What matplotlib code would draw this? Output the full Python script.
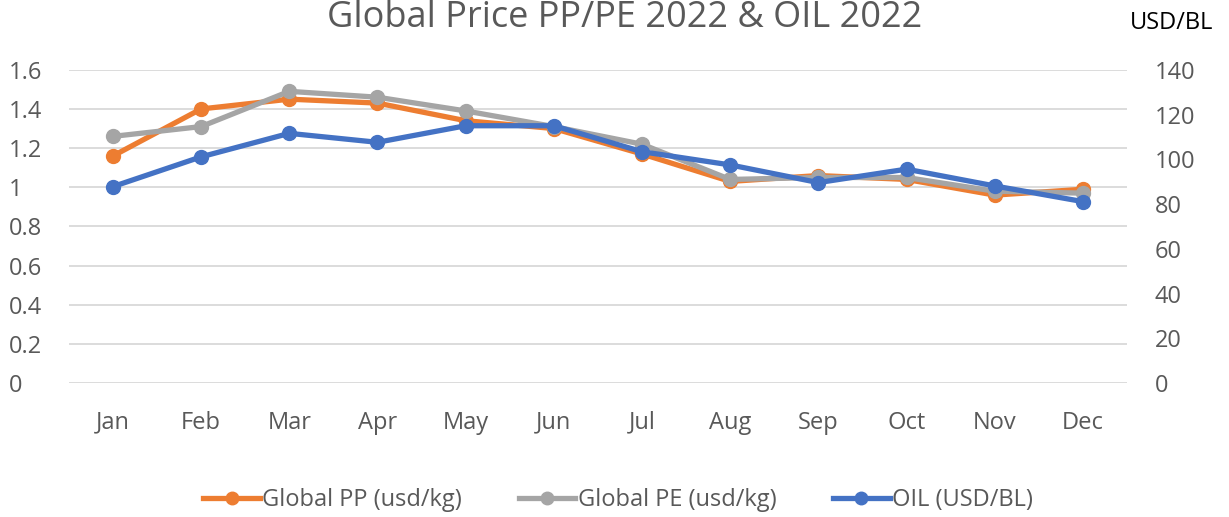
import numpy as np
import matplotlib.pyplot as plt

plt.rcParams['font.family'] = ['Open Sans', 'DejaVu Sans']

months = ["Jan", "Feb", "Mar", "Apr", "May", "Jun", "Jul", "Aug", "Sep", "Oct", "Nov", "Dec"]
pp = [1.16, 1.40, 1.45, 1.43, 1.34, 1.30, 1.17, 1.03, 1.06, 1.04, 0.96, 0.99]
pe = [1.26, 1.31, 1.49, 1.46, 1.39, 1.31, 1.22, 1.04, 1.05, 1.05, 0.98, 0.97]
oil = [87.8, 101.1, 111.6, 107.6, 115.0, 115.0, 103.4, 97.5, 89.6, 95.6, 88.1, 81.1]

left_ticks = [0, 0.2, 0.4, 0.6, 0.8, 1, 1.2, 1.4, 1.6]
left_labels = ["0", "0.2", "0.4", "0.6", "0.8", "1", "1.2", "1.4", "1.6"]
right_ticks = [0, 20, 40, 60, 80, 100, 120, 140]

txt = "#595959"
c_pp = "#ED7D31"
c_pe = "#A5A5A5"
c_oil = "#4472C4"
fs = 17

fig = plt.figure(figsize=(12.29, 5.17), dpi=100)
ax = fig.add_axes([0.056, 0.259, 0.861, 0.606])
ax2 = ax.twinx()

x = np.arange(len(months))
lw = 3.8
ms = 10
l1, = ax.plot(x, pp, color=c_pp, lw=lw, marker="o", ms=ms, label="Global PP (usd/kg)", zorder=3)
l2, = ax.plot(x, pe, color=c_pe, lw=lw, marker="o", ms=ms, label="Global PE (usd/kg)", zorder=4)
l3, = ax2.plot(x, oil, color=c_oil, lw=lw, marker="o", ms=ms, label="OIL (USD/BL)", zorder=5)

ax.set_xlim(-0.5, 11.5)
ax.set_ylim(0, 1.6)
ax2.set_ylim(0, 140)
ax.set_xticks(x)
ax.set_xticklabels(months)
ax.set_yticks(left_ticks)
ax.set_yticklabels(left_labels)
ax2.set_yticks(right_ticks)

ax.grid(axis="y", color="#D9D9D9", lw=1.3)
ax.set_axisbelow(True)
for a in (ax, ax2):
    for s in a.spines.values():
        s.set_visible(False)
    a.tick_params(length=0, colors=txt, labelsize=fs)
ax.tick_params(axis="x", pad=20)
ax.tick_params(axis="y", pad=43)
ax2.tick_params(axis="y", pad=20)
for lab in ax.get_yticklabels():
    lab.set_horizontalalignment("left")

fig.text(0.508, 1.0, "Global Price PP/PE 2022 & OIL 2022", ha="center", va="top",
         fontsize=26, color=txt)
fig.text(0.953, 0.955, "USD/BL", ha="center", va="center", fontsize=fs, color="black")

fig.legend(handles=[l1, l2, l3], loc="center", bbox_to_anchor=(0.503, 0.033), ncol=3,
           frameon=False, fontsize=fs, labelcolor=txt, handlelength=2.4,
           handletextpad=0.1, columnspacing=2.4, markerscale=0.9)

fig.savefig("out.png", dpi=100)
